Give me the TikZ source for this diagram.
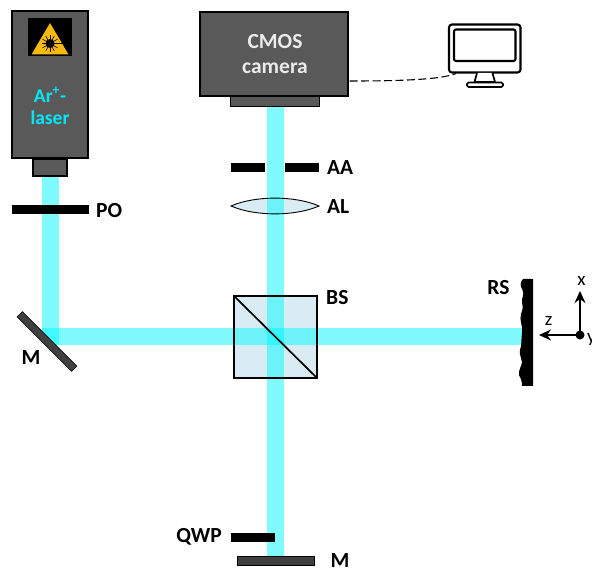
\documentclass[tikz,border=0pt]{standalone}
\usepackage{fontspec}
\setmainfont{Carlito}
\usetikzlibrary{arrows.meta}
\definecolor{beamc}{HTML}{00F8FF}
\definecolor{cubec}{HTML}{DAECF3}
\definecolor{housing}{HTML}{595959}
\definecolor{mirrorc}{HTML}{404040}
\definecolor{warnc}{HTML}{F5B90F}
\definecolor{lasertxt}{HTML}{00E8F8}
\tikzset{
  x=1pt,y=-1pt,
  housingbox/.style={draw=black,line width=1.2pt,fill=housing,inner sep=0pt,outer sep=0pt,align=center},
  blackbar/.style={fill=black,inner sep=0pt,outer sep=0pt},
  mirrorbar/.style={draw=black,line width=.6pt,fill=mirrorc,inner sep=0pt,outer sep=0pt},
  lbl/.style={font=\fontsize{21.5}{24}\selectfont\bfseries,text=black,inner sep=0pt},
  axlbl/.style={font=\fontsize{19}{20}\selectfont,text=black,inner sep=0pt},
  beam/.style={line width=17pt,draw=beamc,draw opacity=.5,line cap=butt},
  mon/.style={draw=black,line width=2.1pt,fill=white,line join=round},
}
\begin{document}
\begin{tikzpicture}
\useasboundingbox (0,0) rectangle (592,569);
\clip (0,0) rectangle (592,569);
% cube and lens fills under the beams
\node[fill=cubec,minimum width=83pt,minimum height=82pt,inner sep=0pt,outer sep=0pt] (bs) at (275.5,337) {};
\fill[cubec] (231,206) .. controls (255,195.5) and (295,195.5) .. (319,206) .. controls (295,216.5) and (255,216.5) .. (231,206) -- cycle;
% anchors of the beams
\coordinate (lasout) at (50,176);
\coordinate (rsin) at (522,337);
\coordinate (camin) at (275.5,106);
\coordinate (mirin) at (275.5,556);
\begin{scope}
\clip (0,295) -- (400,695) -- (600,695) -- (600,0) -- (0,0) -- cycle;
\draw[beam] (lasout) -- (50,345.5);
\draw[beam] (41.5,337) -- (rsin);
\end{scope}
\draw[beam] (camin) -- (mirin);
% cube and lens outlines
\draw[black,line width=1.3pt] (bs.north west) rectangle (bs.south east);
\draw[black,line width=1.7pt] (bs.north west) -- (bs.south east);
\draw[black,line width=.9pt] (231,206) .. controls (255,195.5) and (295,195.5) .. (319,206) .. controls (295,216.5) and (255,216.5) .. (231,206) -- cycle;
% laser
\node[housingbox,minimum width=76pt,minimum height=147pt] (laser) at (50,84.5) {};
\node[housingbox,minimum width=34pt,minimum height=17pt] (lasnoz) at (50,167.5) {};
\node[blackbar,minimum width=44pt,minimum height=38pt] (warn) at (50,37.5) {};
\fill[warnc] (50,23) -- (68.5,54.5) -- (31.5,54.5) -- cycle;
\fill[black] (50,43.5) circle (4.5pt);
\foreach \a in {0,30,...,330}{\draw[black,line width=.6pt] (50,43.5) -- ++(\a:8.5pt);}
\draw[black,line width=.8pt] (50,43.5) -- (62,43.5);
\node[font=\fontsize{19.5}{22}\selectfont\bfseries,text=lasertxt,align=center,inner sep=0pt] (lastxt) at (50,106) {Ar\textsuperscript{+}-\\laser};
% PO
\node[blackbar,minimum width=77pt,minimum height=9.5pt] (po) at (50.5,209.5) {};
\node[lbl,anchor=west] (polbl) at (96,211) {PO};
% fold mirror
\node[mirrorbar,minimum width=77pt,minimum height=7.5pt,rotate=-45] (mfold) at (47,341.5) {};
\node[lbl,anchor=center] (mfoldlbl) at (31,358) {M};
% camera
\node[housingbox,minimum width=148pt,minimum height=84pt] (cam) at (274,54) {};
\node[housingbox,minimum width=89pt,minimum height=10pt,line width=.8pt] (camnoz) at (274.5,101) {};
\node[font=\fontsize{21.5}{25}\selectfont\bfseries,text=white!92!black,align=center,inner sep=0pt] (camtxt) at (275,54.5) {CMOS\\camera};
% monitor
\draw[mon,rounded corners=3pt] (449,24.5) rectangle (520.5,72.5);
\draw[mon,rounded corners=2pt] (454,29.5) rectangle (515.5,61);
\draw[mon,line width=1.7pt] (477,73) -- (474.5,82) -- (495,82) -- (492.5,73);
\draw[mon,rounded corners=1.5pt,line width=1.7pt] (467,82.5) rectangle (503,87);
\coordinate (camout) at (349.5,81);
\coordinate (monin) at (456,73.5);
\draw[black,line width=1.1pt,dash pattern=on 8pt off 3.5pt] (camout) .. controls (395,81) and (440,80) .. (monin);
% aperture
\node[blackbar,minimum width=34pt,minimum height=9.5pt] (aal) at (248,167.5) {};
\node[blackbar,minimum width=34pt,minimum height=9.5pt] (aar) at (302,167.5) {};
\node[lbl,anchor=west] (aalbl) at (327,168) {AA};
\node[lbl,anchor=west] (allbl) at (327,207) {AL};
\node[lbl,anchor=west] (bslbl) at (326,298) {BS};
% rough surface
\fill[black] (533,279) -- (523,279) .. controls (519,283) and (521,287) .. (522.5,290)
  .. controls (525,295) and (521,298) .. (522,303) .. controls (523,307) and (523,309) .. (521,314)
  .. controls (519,320) and (523,325) .. (522,333) .. controls (521,340) and (522,345) .. (520,350)
  .. controls (519,356) and (522,358) .. (522,362) .. controls (522,366) and (518,370) .. (519,375)
  .. controls (520,378) and (522,379) .. (522,386) -- (533,386) -- cycle;
\node[lbl,anchor=center] (rslbl) at (498.5,288) {RS};
% axes
\node[circle,fill=black,minimum size=9pt,inner sep=0pt,outer sep=0pt] (orig) at (580,335) {};
\coordinate (xtip) at (580,291);
\coordinate (ztip) at (539,335);
\draw[black,line width=1.4pt,-{Stealth[length=12pt,width=11pt]}] (orig.center) -- (xtip);
\draw[black,line width=1.4pt,-{Stealth[length=12pt,width=11pt]}] (orig.center) -- (ztip);
\node[axlbl] (xlbl) at (581.5,281) {x};
\node[axlbl] (zlbl) at (548.5,321) {z};
\node[axlbl,anchor=west] (ylbl) at (587,339) {y};
% QWP and bottom mirror
\node[blackbar,minimum width=44pt,minimum height=9pt] (qwp) at (253,537.5) {};
\node[lbl,anchor=east] (qwplbl) at (222,536.5) {QWP};
\node[mirrorbar,minimum width=77pt,minimum height=9pt] (mbot) at (275.5,560.5) {};
\node[lbl,anchor=center] (mbotlbl) at (340,561) {M};
\end{tikzpicture}
\end{document}
